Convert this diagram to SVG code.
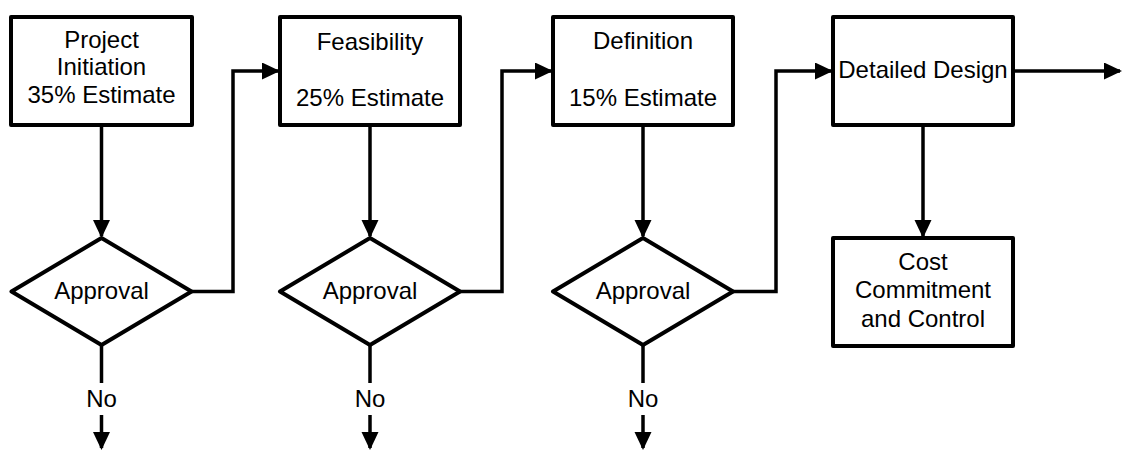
<svg xmlns="http://www.w3.org/2000/svg" width="1123" height="451" viewBox="0 0 1123 451">
  <style>
    .box { fill: #ffffff; stroke: #000000; stroke-width: 4; stroke-linejoin: round; }
    .wire { fill: none; stroke: #000000; stroke-width: 3.5; stroke-linejoin: miter; }
    .lbl { font-family: "Liberation Sans", Arial, sans-serif; font-size: 24px; fill: #000000; text-anchor: middle; }
  </style>
  <defs>
    <marker id="head" markerUnits="userSpaceOnUse" markerWidth="20" markerHeight="18" refX="16" refY="8.5" orient="auto">
      <path d="M0,0 L18,8.5 L0,17 Z" fill="#000000"/>
    </marker>
  </defs>

  <!-- connectors -->
  <g id="connectors">
    <!-- stage boxes down to approval decisions -->
    <path class="wire" d="M101.5,125 V236" marker-end="url(#head)"/>
    <path class="wire" d="M370,125 V236" marker-end="url(#head)"/>
    <path class="wire" d="M643,125 V236" marker-end="url(#head)"/>
    <!-- approvals forward to next stage -->
    <path class="wire" d="M191.5,291.5 H233 V71 H278" marker-end="url(#head)"/>
    <path class="wire" d="M460,291.5 H502 V71 H551" marker-end="url(#head)"/>
    <path class="wire" d="M733,291.5 H776 V71 H831" marker-end="url(#head)"/>
    <!-- detailed design onward and down to cost control -->
    <path class="wire" d="M1013,71 H1120" marker-end="url(#head)"/>
    <path class="wire" d="M923,125 V236" marker-end="url(#head)"/>
    <!-- rejection exits -->
    <path class="wire" d="M101.5,345 V383"/>
    <path class="wire" d="M101.5,415 V448" marker-end="url(#head)"/>
    <path class="wire" d="M370,345 V383"/>
    <path class="wire" d="M370,415 V448" marker-end="url(#head)"/>
    <path class="wire" d="M643,345 V383"/>
    <path class="wire" d="M643,415 V448" marker-end="url(#head)"/>
    <text class="lbl" x="101.5" y="407">No</text>
    <text class="lbl" x="370" y="407">No</text>
    <text class="lbl" x="643" y="407">No</text>
  </g>

  <g id="project-initiation">
    <rect class="box" x="11" y="17" width="181" height="108"/>
    <text class="lbl" x="101.5" y="48">Project</text>
    <text class="lbl" x="101.5" y="75">Initiation</text>
    <text class="lbl" x="101.5" y="103">35% Estimate</text>
  </g>

  <g id="approval-1">
    <polygon class="box" points="101.5,238 191.5,291.5 101.5,345 11.5,291.5"/>
    <text class="lbl" x="101.5" y="299">Approval</text>
  </g>

  <g id="feasibility">
    <rect class="box" x="280" y="17" width="180" height="108"/>
    <text class="lbl" x="370" y="50">Feasibility</text>
    <text class="lbl" x="370" y="106">25% Estimate</text>
  </g>

  <g id="approval-2">
    <polygon class="box" points="370,238 460,291.5 370,345 280,291.5"/>
    <text class="lbl" x="370" y="299">Approval</text>
  </g>

  <g id="definition">
    <rect class="box" x="553" y="17" width="180" height="108"/>
    <text class="lbl" x="643" y="49">Definition</text>
    <text class="lbl" x="643" y="106">15% Estimate</text>
  </g>

  <g id="approval-3">
    <polygon class="box" points="643,238 733,291.5 643,345 553,291.5"/>
    <text class="lbl" x="643" y="299">Approval</text>
  </g>

  <g id="detailed-design">
    <rect class="box" x="833" y="17" width="180" height="108"/>
    <text class="lbl" x="923" y="78">Detailed Design</text>
  </g>

  <g id="cost-control">
    <rect class="box" x="833" y="238" width="180" height="108"/>
    <text class="lbl" x="923" y="270">Cost</text>
    <text class="lbl" x="923" y="298">Commitment</text>
    <text class="lbl" x="923" y="327">and Control</text>
  </g>
</svg>
